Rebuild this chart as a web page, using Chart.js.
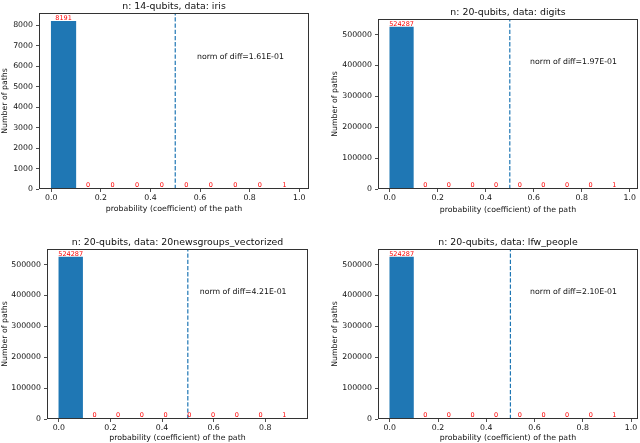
<!DOCTYPE html>
<html>
<head>
<meta charset="utf-8">
<script src="https://cdn.jsdelivr.net/npm/chart.js@4.4.1/dist/chart.umd.min.js"></script>
<style>
  body { margin: 0; background: #fff; width: 640px; height: 443px; position: relative; overflow: hidden; }
  canvas { position: absolute; }
</style>
</head>
<body>
<canvas id="c0"></canvas>
<canvas id="c1"></canvas>
<canvas id="c2"></canvas>
<canvas id="c3"></canvas>
<script>
// data
const panelTitles = ['n: 14-qubits, data: iris', 'n: 20-qubits, data: digits',
                     'n: 20-qubits, data: 20newsgroups_vectorized', 'n: 20-qubits, data: lfw_people'];
const diffNotes = ['norm of diff=1.61E-01', 'norm of diff=1.97E-01', 'norm of diff=4.21E-01', 'norm of diff=2.10E-01'];

const countsIris   = [8191, 0, 0, 0, 0, 0, 0, 0, 0, 1];
const countsDigits = [524287, 0, 0, 0, 0, 0, 0, 0, 0, 1];
const countsNews   = [524287, 0, 0, 0, 0, 0, 0, 0, 0, 1];
const countsLfw    = [524287, 0, 0, 0, 0, 0, 0, 0, 0, 1];

// bin centres (10 bins from 0 to the largest coefficient)
const binsIris   = [0.0495, 0.1485, 0.2475, 0.3465, 0.4455, 0.5445, 0.6435, 0.7425, 0.8415, 0.9405];
const binsDigits = [0.049, 0.148, 0.246, 0.345, 0.443, 0.542, 0.640, 0.739, 0.837, 0.936];
const binsNews   = [0.046, 0.138, 0.230, 0.322, 0.414, 0.506, 0.598, 0.690, 0.782, 0.874];
const binsLfw    = [0.049, 0.147, 0.245, 0.343, 0.441, 0.539, 0.637, 0.735, 0.833, 0.931];
const binRightEdges = [0.99, 0.985, 0.92, 0.98];

const xTickValues = [0, 0.2, 0.4, 0.6, 0.8, 1.0];
const yTicksSmall = [0, 1000, 2000, 3000, 4000, 5000, 6000, 7000, 8000];
const yTicksLarge = [0, 100000, 200000, 300000, 400000, 500000];
const thresholdX = 0.5;

// layout of the four panels (page pixels)
const panels = [
  { id: 'c0', left: 0,   top: 0,   w: 320, h: 221, plot: [39, 13, 309, 189],  yPad: 0,   xPad: 7 },
  { id: 'c1', left: 320, top: 0,   w: 320, h: 221, plot: [378, 19, 638, 189], yPad: 9.8, xPad: 6.3 },
  { id: 'c2', left: 0,   top: 221, w: 320, h: 222, plot: [47, 249, 308, 419], yPad: 0,   xPad: 0 },
  { id: 'c3', left: 320, top: 221, w: 320, h: 222, plot: [378, 249, 638, 419], yPad: 9.8, xPad: 0 }
];

const FONT = "'DejaVu Sans', sans-serif";
const C0 = '#1f77b4';
Chart.defaults.font.family = FONT;

const panelDecor = {
  id: 'panelDecor',
  afterDraw(chart, args, opts) {
    const ctx = chart.ctx;
    const a = chart.chartArea;
    ctx.save();
    // value labels above each bin
    const meta = chart.getDatasetMeta(0);
    ctx.fillStyle = 'red';
    ctx.font = '6.5px ' + FONT;
    ctx.textAlign = 'center';
    ctx.textBaseline = 'bottom';
    meta.data.forEach(function (bar, i) {
      ctx.fillText(String(chart.data.datasets[0].data[i].y), bar.x, bar.y);
    });
    // note
    ctx.fillStyle = '#111';
    ctx.font = '7.8px ' + FONT;
    ctx.textAlign = 'left';
    ctx.textBaseline = 'middle';
    ctx.fillText(opts.note, a.left + 0.585 * (a.right - a.left), a.bottom - 0.75 * (a.bottom - a.top));
    // title
    ctx.font = '9.4px ' + FONT;
    ctx.textAlign = 'center';
    ctx.textBaseline = 'alphabetic';
    ctx.fillText(opts.title, (a.left + a.right) / 2, a.top - 4.5);
    // frame
    ctx.strokeStyle = '#333';
    ctx.lineWidth = 1;
    ctx.strokeRect(a.left + 0.5, a.top + 0.5, a.right - a.left - 1, a.bottom - a.top - 1);
    ctx.restore();
  }
};

function makePanel(p, title, note, bins, counts, binMax, yTicks) {
  const canvas = document.getElementById(p.id);
  canvas.width = p.w;
  canvas.height = p.h;
  canvas.style.left = p.left + 'px';
  canvas.style.top = p.top + 'px';

  const yMax = Math.max.apply(null, counts) * 1.05;
  const xMin = -0.05 * binMax;
  const xMax = 1.05 * binMax;
  const tickFont = { family: FONT, size: 7.8 };

  return new Chart(canvas, {
    type: 'bar',
    data: {
      datasets: [
        {
          type: 'bar',
          data: bins.map(function (x, i) { return { x: x, y: counts[i] }; }),
          backgroundColor: C0,
          borderWidth: 0,
          barPercentage: 1,
          categoryPercentage: 1,
          order: 2
        },
        {
          type: 'line',
          data: [{ x: thresholdX, y: 0 }, { x: thresholdX, y: yMax }],
          borderColor: C0,
          borderWidth: 1.2,
          borderDash: [4.3, 1.9],
          pointRadius: 0,
          fill: false,
          order: 1
        }
      ]
    },
    options: {
      responsive: false,
      animation: false,
      events: [],
      layout: { padding: { left: 0, top: p.plot[1] - p.top, right: p.left + p.w - p.plot[2], bottom: 0 } },
      plugins: {
        legend: { display: false },
        tooltip: { enabled: false },
        title: { display: false },
        panelDecor: { title: title, note: note }
      },
      scales: {
        x: {
          type: 'linear',
          min: xMin,
          max: xMax,
          bounds: 'data',
          offset: false,
          grid: { offset: false, drawOnChartArea: false, drawTicks: true, tickLength: 3, tickColor: '#222', lineWidth: 0.8 },
          border: { display: false },
          afterBuildTicks: function (s) {
            s.ticks = xTickValues.filter(function (v) { return v <= xMax; }).map(function (v) { return { value: v }; });
          },
          afterFit: function (s) { s.height = p.top + p.h - p.plot[3]; },
          ticks: {
            color: '#111', font: tickFont, padding: 1, maxRotation: 0, autoSkip: false,
            callback: function (v) { return Number(v).toFixed(1); }
          },
          title: {
            display: true, text: 'probability (coefficient) of the path', color: '#111',
            font: tickFont, padding: { top: 0, bottom: p.xPad }
          }
        },
        y: {
          min: 0,
          max: yMax,
          bounds: 'data',
          grid: { drawOnChartArea: false, drawTicks: true, tickLength: 3, tickColor: '#222', lineWidth: 0.8 },
          border: { display: false },
          afterBuildTicks: function (s) {
            s.ticks = yTicks.map(function (v) { return { value: v }; });
          },
          afterFit: function (s) { s.width = p.plot[0] - p.left; },
          ticks: {
            color: '#111', font: tickFont, padding: 3, autoSkip: false,
            callback: function (v) { return String(v); }
          },
          title: {
            display: true, text: 'Number of paths', color: '#111',
            font: tickFont, padding: { top: p.yPad, bottom: 0 }
          }
        }
      }
    },
    plugins: [panelDecor]
  });
}

makePanel(panels[0], panelTitles[0], diffNotes[0], binsIris, countsIris, binRightEdges[0], yTicksSmall);
makePanel(panels[1], panelTitles[1], diffNotes[1], binsDigits, countsDigits, binRightEdges[1], yTicksLarge);
makePanel(panels[2], panelTitles[2], diffNotes[2], binsNews, countsNews, binRightEdges[2], yTicksLarge);
makePanel(panels[3], panelTitles[3], diffNotes[3], binsLfw, countsLfw, binRightEdges[3], yTicksLarge);
</script>
</body>
</html>
